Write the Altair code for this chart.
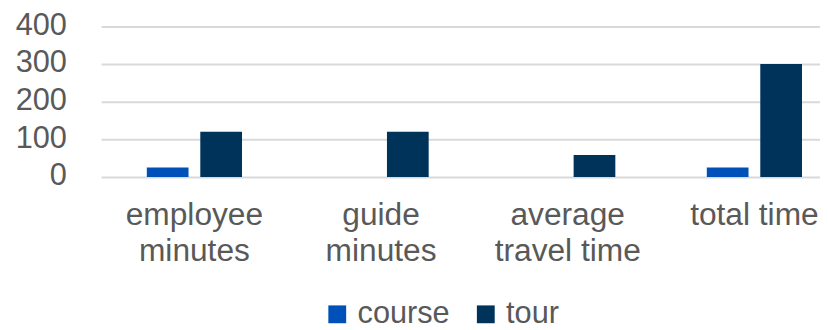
import altair as alt
import pandas as pd

categories = ["employee|minutes", "guide|minutes", "average|travel time", "total time"]
series = ["course", "tour"]
course = [25, 0, 0, 25]
tour = [120, 120, 58, 300]
colors = ["#0050B9", "#00335A"]
y_ticks = [0, 100, 200, 300, 400]

rows = []
for c, v in zip(categories, course):
    rows.append({"category": c, "series": "course", "value": v})
for c, v in zip(categories, tour):
    rows.append({"category": c, "series": "tour", "value": v})
df = pd.DataFrame(rows)

FONT = "Liberation Sans"
GRAY = "#595959"

chart = alt.Chart(df).mark_bar().encode(
    x=alt.X("category:N", sort=categories,
            scale=alt.Scale(range=[4, 758], paddingInner=0.49, paddingOuter=0.245),
            axis=alt.Axis(title=None, labelAngle=0, labelExpr="split(datum.label, '|')",
                          labelFont=FONT, labelFontSize=32, labelColor=GRAY,
                          labelLineHeight=36, labelPadding=23, ticks=False, domain=False,
                          grid=False, labelBaseline="top")),
    xOffset=alt.XOffset("series:N", sort=series,
                        scale=alt.Scale(paddingInner=0.22, paddingOuter=0)),
    y=alt.Y("value:Q", scale=alt.Scale(domain=[0, 400]),
            axis=alt.Axis(title=None, values=y_ticks, labelFont=FONT, labelFontSize=31,
                          labelColor=GRAY, labelPadding=31, labelOffset=-1,
                          ticks=False, domain=False,
                          gridColor="#D9D9D9", gridWidth=2)),
    color=alt.Color("series:N", sort=series,
                    scale=alt.Scale(domain=series, range=colors),
                    legend=alt.Legend(title=None, orient="none", direction="horizontal",
                                      legendX=227, legendY=275,
                                      symbolType="square", symbolSize=324,
                                      symbolStrokeWidth=0, labelFont=FONT,
                                      labelFontSize=31, labelColor=GRAY,
                                      labelOffset=5, columnPadding=20)),
).properties(
    width=730, height=152,
    autosize=alt.AutoSizeParams(type="none"),
    padding={"left": 90, "top": 17, "right": 0, "bottom": 153},
).configure_view(stroke=None)

chart.save("out.html", embed_options={"renderer": "svg", "actions": False})
